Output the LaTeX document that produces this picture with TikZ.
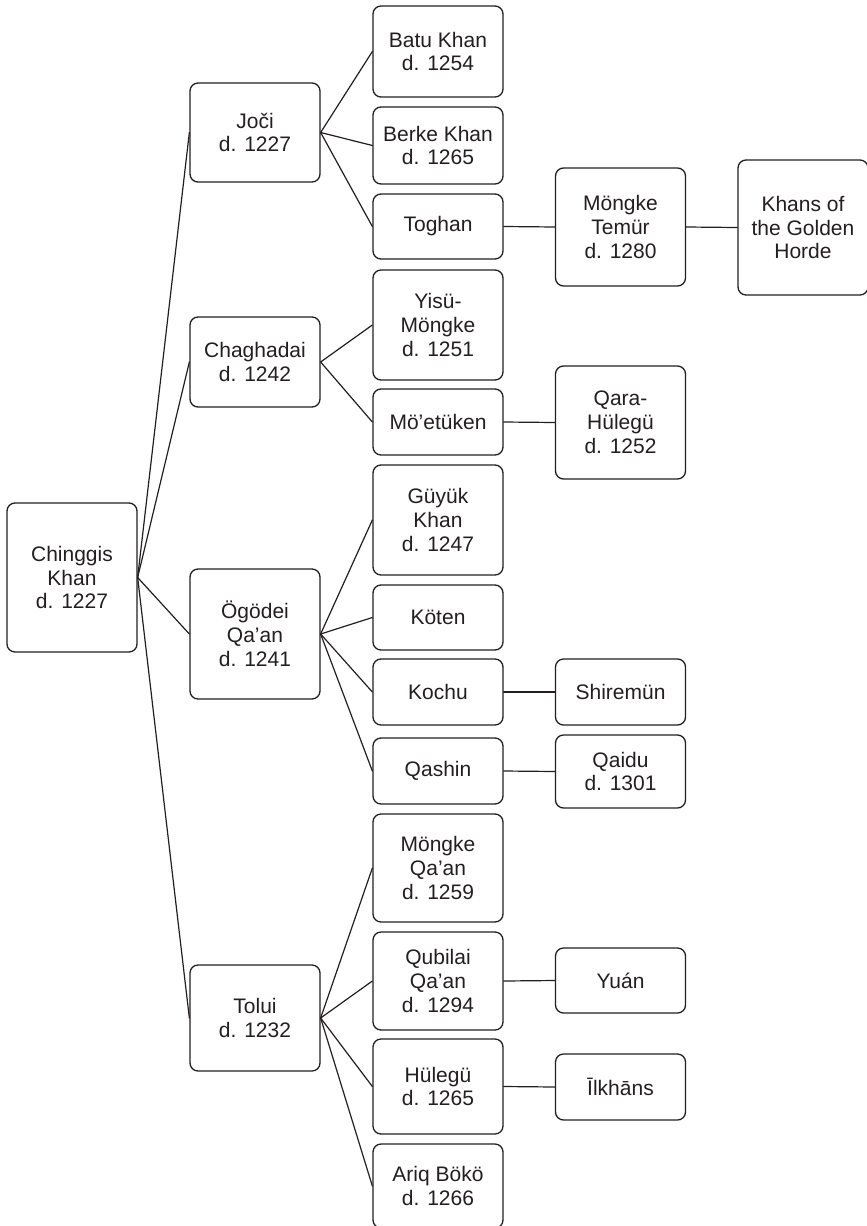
\documentclass[tikz,border=0pt]{standalone}
\usepackage{fontspec}
\setmainfont{Liberation Sans}
\definecolor{ink}{HTML}{231F20}
\newcommand{\kin}[5]{%
  \node[kbox,minimum height=#4*0.5pt] (#1) at (#2,#3) {#5};
}

\begin{document}
\begin{tikzpicture}[x=.5pt,y=-.5pt,line cap=round,line join=round,
    font=\fontsize{10.5}{11.9}\selectfont,
    kbox/.style={draw=ink,line width=.65pt,rounded corners=4pt,align=center,
      minimum width=65pt,inner sep=0pt,text=ink},
    link/.style={draw=ink,line width=.6pt}]
  \path[use as bounding box] (0,0) rectangle (867,1226);
  \fill[white] (0,0) rectangle (867,1226);

  % founder and sons
  \kin{chinggis}{72}{577.5}{149}{Chinggis\\Khan\\d. 1227}
  \kin{joci}{255}{132.5}{99}{Joči\\d. 1227}
  \kin{chaghadai}{255}{362}{90}{Chaghadai\\d. 1242}
  \kin{ogodei}{255}{634}{130}{Ögödei\\Qa’an\\d. 1241}
  \kin{tolui}{255}{1018}{106}{Tolui\\d. 1232}

  % grandsons
  \kin{batu}{438}{51.5}{91}{Batu Khan\\d. 1254}
  \kin{berke}{438}{145.5}{77}{Berke Khan\\d. 1265}
  \kin{toghan}{438}{226.5}{65}{Toghan}
  \kin{yisu}{438}{325}{110}{Yisü-\\Möngke\\d. 1251}
  \kin{moetuken}{438}{422}{66}{Mö’etüken}
  \kin{guyuk}{438}{520}{110}{Güyük\\Khan\\d. 1247}
  \kin{koten}{438}{617.5}{65}{Köten}
  \kin{kochu}{438}{692}{66}{Kochu}
  \kin{qashin}{438}{771}{66}{Qashin}
  \kin{mongke}{438}{868}{108}{Möngke\\Qa’an\\d. 1259}
  \kin{qubilai}{438}{981}{98}{Qubilai\\Qa’an\\d. 1294}
  \kin{hulegu}{438}{1086.5}{95}{Hülegü\\d. 1265}
  \kin{ariq}{438}{1186}{84}{Ariq Bökö\\d. 1266}

  % later lines
  \kin{temur}{620.5}{227}{118}{Möngke\\Temür\\d. 1280}
  \kin{qarahulegu}{620.5}{422.5}{113}{Qara-\\Hülegü\\d. 1252}
  \kin{shiremun}{620.5}{692}{66}{Shiremün}
  \kin{qaidu}{620.5}{771.5}{73}{Qaidu\\d. 1301}
  \kin{yuan}{620.5}{980.5}{65}{Yuán}
  \kin{ilkhans}{620.5}{1087}{66}{Īlkhāns}
  \kin{horde}{803}{227.5}{135}{Khans of\\the Golden\\Horde}

  % descent lines
  \foreach \c in {joci,chaghadai,ogodei,tolui}
    \draw[link] (chinggis.east) -- (\c.west);
  \foreach \c in {batu,berke,toghan}
    \draw[link] (joci.east) -- (\c.west);
  \foreach \c in {yisu,moetuken}
    \draw[link] (chaghadai.east) -- (\c.west);
  \foreach \c in {guyuk,koten,kochu,qashin}
    \draw[link] (ogodei.east) -- (\c.west);
  \foreach \c in {mongke,qubilai,hulegu,ariq}
    \draw[link] (tolui.east) -- (\c.west);
  \foreach \a/\b in {toghan/temur,temur/horde,moetuken/qarahulegu,kochu/shiremun,
      qashin/qaidu,qubilai/yuan,hulegu/ilkhans}
    \draw[link] (\a.east) -- (\b.west);
\end{tikzpicture}
\end{document}
